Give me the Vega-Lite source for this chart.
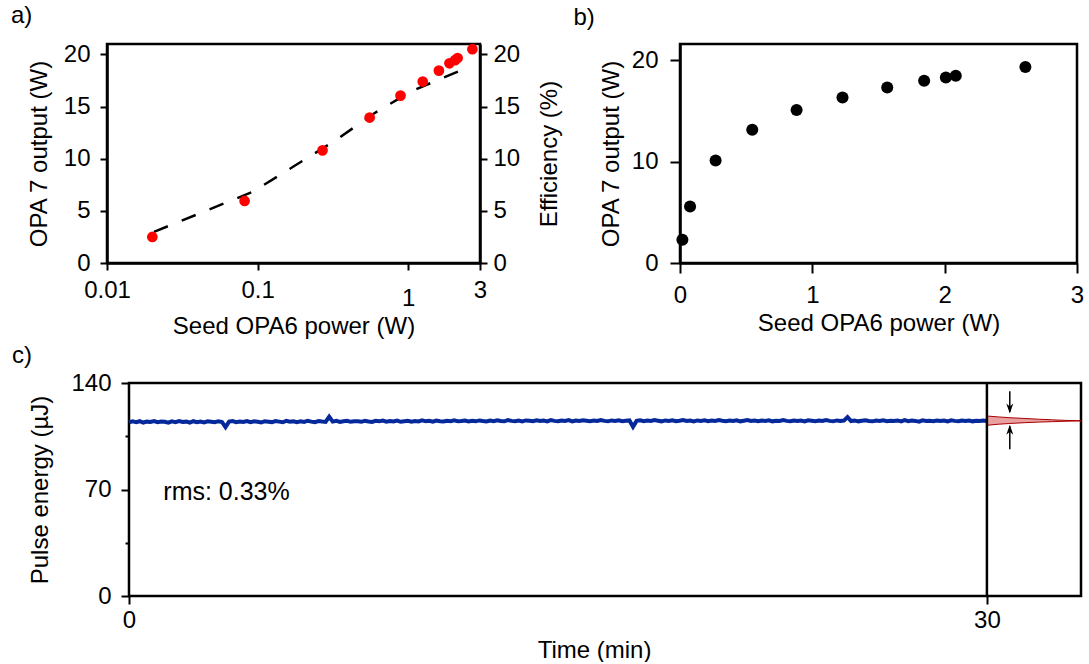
{
 "$schema": "https://vega.github.io/schema/vega-lite/v6.json",
 "padding": {"left": 9, "top": 2, "right": 0, "bottom": 0},
 "background": "white",
 "bounds": "full",
 "spacing": 4,
 "config": {
  "font": "Liberation Sans",
  "view": {"stroke": "black", "strokeWidth": 2.5},
  "axis": {"grid": false, "domainColor": "black", "domainWidth": 2.5, "tickColor": "black", "tickWidth": 2, "tickSize": 8, "labelColor": "black", "labelFontSize": 24, "labelFont": "Liberation Sans", "titleFont": "Liberation Sans", "titleFontSize": 24, "titleFontWeight": "normal", "titleColor": "black", "labelPadding": 6, "labelFlush": false, "labelOverlap": false},
  "title": {"font": "Liberation Sans", "fontSize": 24, "fontWeight": "normal", "color": "black", "anchor": "start", "frame": "group", "baseline": "alphabetic"}
 },
 "vconcat": [
  {
   "bounds": "flush",
   "spacing": 200,
   "hconcat": [
    {
     "width": 373, "height": 219,
     "title": {"text": "a)", "dx": -96, "offset": 14.5},
     "layer": [
      {
       "data": {"values": [
        {"p": 0.0205, "eff": 2.98}, {"p": 0.0926, "eff": 6.82}, {"p": 0.171, "eff": 9.2}, {"p": 0.3245, "eff": 11.7},
        {"p": 0.593, "eff": 14.34}, {"p": 1.052, "eff": 16.48}, {"p": 2.487, "eff": 18.75}
       ]},
       "mark": {"type": "line", "color": "black", "strokeWidth": 2.5, "strokeDash": [15, 15]},
       "encoding": {
        "x": {"field": "p", "type": "quantitative", "scale": {"type": "log", "domain": [0.01, 3], "nice": false},
              "axis": {"values": [0.01, 0.1, 1, 3], "format": "~g", "title": "Seed OPA6 power (W)", "tickSize": 7,
                       "labelPadding": {"condition": {"test": "datum.value == 1", "value": 16}, "value": 8}, "titlePadding": 4}},
        "y": {"field": "eff", "type": "quantitative", "scale": {"domain": [0, 21], "nice": false},
              "axis": {"orient": "right", "values": [0, 5, 10, 15, 20], "title": "Efficiency (%)", "titleAngle": 270, "titleBaseline": "top", "tickSize": 7, "labelPadding": 6, "titlePadding": 18}}
       }
      },
      {
       "data": {"values": [
        {"p": 0.02, "w": 2.5}, {"p": 0.082, "w": 5.95}, {"p": 0.27, "w": 10.8}, {"p": 0.555, "w": 13.95},
        {"p": 0.89, "w": 16.05}, {"p": 1.25, "w": 17.4}, {"p": 1.6, "w": 18.45}, {"p": 1.88, "w": 19.15},
        {"p": 2.05, "w": 19.45}, {"p": 2.13, "w": 19.65}, {"p": 2.67, "w": 20.5}
       ]},
       "mark": {"type": "circle", "color": "#ff0000", "size": 115, "opacity": 1},
       "encoding": {
        "x": {"field": "p", "type": "quantitative"},
        "y": {"field": "w", "type": "quantitative", "scale": {"domain": [0, 21], "nice": false},
              "axis": {"orient": "left", "values": [0, 5, 10, 15, 20], "title": "OPA 7 output (W)", "tickSize": 7, "labelPadding": 10, "titlePadding": 12}}
       }
      }
     ],
     "resolve": {"scale": {"y": "independent"}}
    },
    {
     "width": 397, "height": 219,
     "title": {"text": "b)", "dx": -106.5, "offset": 14.5},
     "data": {"values": [
      {"p": 0.018, "w": 2.3}, {"p": 0.076, "w": 5.57}, {"p": 0.269, "w": 10.1}, {"p": 0.546, "w": 13.15},
      {"p": 0.881, "w": 15.1}, {"p": 1.228, "w": 16.33}, {"p": 1.566, "w": 17.31}, {"p": 1.845, "w": 17.97},
      {"p": 2.009, "w": 18.3}, {"p": 2.084, "w": 18.46}, {"p": 2.61, "w": 19.34}
     ]},
     "mark": {"type": "circle", "color": "black", "size": 145, "opacity": 1},
     "encoding": {
      "x": {"field": "p", "type": "quantitative", "scale": {"domain": [0, 3], "nice": false},
            "axis": {"values": [0, 1, 2, 3], "title": "Seed OPA6 power (W)", "tickSize": 10, "labelPadding": 10, "titlePadding": 4}},
      "y": {"field": "w", "type": "quantitative", "scale": {"domain": [0, 21.6], "nice": false},
            "axis": {"values": [0, 10, 20], "title": "OPA 7 output (W)", "tickSize": 10, "labelPadding": 12, "titlePadding": 8}}
     }
    }
   ]
  },
  {
   "width": 974, "height": 213,
   "title": {"text": "c)", "dx": -95, "offset": 3},
   "view": {"stroke": null},
   "layer": [
    {
     "data": {"values": [{"x0": 0, "x1": 33.29, "y0": 0, "y1": 140}]},
     "mark": {"type": "rect", "filled": false, "stroke": "black", "strokeWidth": 2.5},
     "encoding": {
      "x": {"field": "x0", "type": "quantitative", "scale": {"domain": [-0.769, 33.29], "nice": false, "zero": false},
            "axis": {"values": [0, 30], "domain": false, "title": "Time (min)", "tickSize": 8, "labelPadding": 4, "titlePadding": 6}},
      "x2": {"field": "x1"},
      "y": {"field": "y0", "type": "quantitative", "scale": {"domain": [0, 140], "nice": false},
            "axis": {"values": [0, 35, 70, 105, 140], "labelExpr": "datum.value % 70 == 0 ? datum.label : ''",
                     "tickSize": {"condition": {"test": "datum.value % 70 != 0", "value": 4}, "value": 8},
                     "offset": -22, "domain": false, "title": "Pulse energy (µJ)", "labelPadding": 10, "titlePadding": 18}},
      "y2": {"field": "y1"}
     }
    },
    {
     "data": {"values": [
      {"t":0,"e":114.1},{"t":0.125,"e":114.8},{"t":0.25,"e":114.3},{"t":0.375,"e":114.9},{"t":0.5,"e":114.0},{"t":0.625,"e":114.6},{"t":0.75,"e":114.4},{"t":0.875,"e":115.0},
      {"t":1,"e":114.2},{"t":1.125,"e":114.7},{"t":1.25,"e":114.5},{"t":1.375,"e":113.9},{"t":1.5,"e":114.8},{"t":1.625,"e":114.3},{"t":1.75,"e":115.0},{"t":1.875,"e":114.4},
      {"t":2,"e":114.6},{"t":2.125,"e":114.0},{"t":2.25,"e":114.9},{"t":2.375,"e":114.3},{"t":2.5,"e":114.7},{"t":2.625,"e":114.1},{"t":2.75,"e":114.8},{"t":2.875,"e":114.5},
      {"t":3,"e":114.2},{"t":3.125,"e":114.9},{"t":3.25,"e":114.4},{"t":3.375,"e":111.0},{"t":3.5,"e":114.6},{"t":3.625,"e":115.0},{"t":3.75,"e":114.3},{"t":3.875,"e":114.7},
      {"t":4,"e":114.4},{"t":4.125,"e":115.0},{"t":4.25,"e":114.2},{"t":4.375,"e":114.8},{"t":4.5,"e":114.5},{"t":4.625,"e":114.1},{"t":4.75,"e":114.9},{"t":4.875,"e":114.6},
      {"t":5,"e":114.3},{"t":5.125,"e":115.0},{"t":5.25,"e":114.6},{"t":5.375,"e":114.2},{"t":5.5,"e":115.1},{"t":5.625,"e":114.5},{"t":5.75,"e":114.9},{"t":5.875,"e":114.3},
      {"t":6,"e":114.8},{"t":6.125,"e":114.4},{"t":6.25,"e":115.2},{"t":6.375,"e":114.6},{"t":6.5,"e":114.3},{"t":6.625,"e":115.0},{"t":6.75,"e":114.7},{"t":6.875,"e":114.5},
      {"t":7,"e":117.8},{"t":7.125,"e":114.6},{"t":7.25,"e":115.1},{"t":7.375,"e":114.4},{"t":7.5,"e":114.9},{"t":7.625,"e":115.2},{"t":7.75,"e":114.5},{"t":7.875,"e":114.8},
      {"t":8,"e":114.9},{"t":8.125,"e":114.5},{"t":8.25,"e":115.2},{"t":8.375,"e":114.7},{"t":8.5,"e":114.4},{"t":8.625,"e":115.1},{"t":8.75,"e":114.8},{"t":8.875,"e":115.3},
      {"t":9,"e":114.6},{"t":9.125,"e":115.0},{"t":9.25,"e":114.7},{"t":9.375,"e":115.3},{"t":9.5,"e":114.5},{"t":9.625,"e":114.9},{"t":9.75,"e":115.2},{"t":9.875,"e":114.6},
      {"t":10,"e":115.0},{"t":10.125,"e":114.7},{"t":10.25,"e":115.4},{"t":10.375,"e":114.8},{"t":10.5,"e":115.1},{"t":10.625,"e":114.6},{"t":10.75,"e":115.3},{"t":10.875,"e":114.9},
      {"t":11,"e":114.7},{"t":11.125,"e":115.2},{"t":11.25,"e":114.9},{"t":11.375,"e":115.5},{"t":11.5,"e":114.8},{"t":11.625,"e":115.0},{"t":11.75,"e":115.3},{"t":11.875,"e":114.7},
      {"t":12,"e":115.1},{"t":12.125,"e":114.8},{"t":12.25,"e":115.4},{"t":12.375,"e":115.0},{"t":12.5,"e":114.7},{"t":12.625,"e":115.3},{"t":12.75,"e":114.9},{"t":12.875,"e":115.5},
      {"t":13,"e":115.0},{"t":13.125,"e":114.8},{"t":13.25,"e":115.6},{"t":13.375,"e":115.1},{"t":13.5,"e":114.9},{"t":13.625,"e":115.3},{"t":13.75,"e":114.8},{"t":13.875,"e":115.4},
      {"t":14,"e":115.2},{"t":14.125,"e":114.9},{"t":14.25,"e":115.5},{"t":14.375,"e":115.0},{"t":14.5,"e":115.3},{"t":14.625,"e":114.8},{"t":14.75,"e":115.6},{"t":14.875,"e":115.1},
      {"t":15,"e":114.9},{"t":15.125,"e":115.4},{"t":15.25,"e":115.1},{"t":15.375,"e":115.6},{"t":15.5,"e":114.8},{"t":15.625,"e":115.3},{"t":15.75,"e":115.0},{"t":15.875,"e":115.5},
      {"t":16,"e":115.2},{"t":16.125,"e":114.9},{"t":16.25,"e":115.4},{"t":16.375,"e":115.0},{"t":16.5,"e":115.7},{"t":16.625,"e":115.1},{"t":16.75,"e":114.8},{"t":16.875,"e":115.4},
      {"t":17,"e":115.0},{"t":17.125,"e":115.5},{"t":17.25,"e":114.9},{"t":17.375,"e":115.2},{"t":17.5,"e":115.4},{"t":17.625,"e":111.2},{"t":17.75,"e":115.1},{"t":17.875,"e":115.5},
      {"t":18,"e":114.9},{"t":18.125,"e":115.3},{"t":18.25,"e":115.0},{"t":18.375,"e":115.6},{"t":18.5,"e":115.2},{"t":18.625,"e":114.8},{"t":18.75,"e":115.4},{"t":18.875,"e":115.1},
      {"t":19,"e":115.5},{"t":19.125,"e":114.9},{"t":19.25,"e":115.2},{"t":19.375,"e":115.6},{"t":19.5,"e":115.0},{"t":19.625,"e":115.3},{"t":19.75,"e":114.8},{"t":19.875,"e":115.4},
      {"t":20,"e":115.1},{"t":20.125,"e":115.5},{"t":20.25,"e":114.9},{"t":20.375,"e":115.3},{"t":20.5,"e":115.0},{"t":20.625,"e":115.6},{"t":20.75,"e":115.2},{"t":20.875,"e":114.9},
      {"t":21,"e":115.4},{"t":21.125,"e":115.0},{"t":21.25,"e":115.5},{"t":21.375,"e":114.8},{"t":21.5,"e":115.2},{"t":21.625,"e":115.6},{"t":21.75,"e":115.0},{"t":21.875,"e":115.3},
      {"t":22,"e":114.9},{"t":22.125,"e":115.4},{"t":22.25,"e":115.1},{"t":22.375,"e":115.5},{"t":22.5,"e":114.8},{"t":22.625,"e":115.2},{"t":22.75,"e":115.0},{"t":22.875,"e":115.6},
      {"t":23,"e":115.1},{"t":23.125,"e":114.9},{"t":23.25,"e":115.4},{"t":23.375,"e":115.0},{"t":23.5,"e":115.3},{"t":23.625,"e":114.7},{"t":23.75,"e":115.5},{"t":23.875,"e":115.2},
      {"t":24,"e":114.9},{"t":24.125,"e":115.3},{"t":24.25,"e":115.0},{"t":24.375,"e":115.6},{"t":24.5,"e":115.1},{"t":24.625,"e":114.8},{"t":24.75,"e":115.4},{"t":24.875,"e":115.0},
      {"t":25,"e":115.3},{"t":25.125,"e":117.6},{"t":25.25,"e":115.0},{"t":25.375,"e":115.4},{"t":25.5,"e":114.8},{"t":25.625,"e":115.2},{"t":25.75,"e":115.5},{"t":25.875,"e":115.0},
      {"t":26,"e":114.8},{"t":26.125,"e":115.3},{"t":26.25,"e":115.1},{"t":26.375,"e":115.5},{"t":26.5,"e":114.9},{"t":26.625,"e":115.2},{"t":26.75,"e":115.0},{"t":26.875,"e":115.4},
      {"t":27,"e":114.7},{"t":27.125,"e":115.6},{"t":27.25,"e":114.9},{"t":27.375,"e":115.3},{"t":27.5,"e":115.1},{"t":27.625,"e":114.6},{"t":27.75,"e":115.5},{"t":27.875,"e":115.0},
      {"t":28,"e":115.2},{"t":28.125,"e":114.9},{"t":28.25,"e":115.4},{"t":28.375,"e":115.0},{"t":28.5,"e":115.3},{"t":28.625,"e":114.8},{"t":28.75,"e":115.5},{"t":28.875,"e":115.1},
      {"t":29,"e":114.9},{"t":29.125,"e":115.4},{"t":29.25,"e":115.0},{"t":29.375,"e":115.3},{"t":29.5,"e":114.8},{"t":29.625,"e":115.2},{"t":29.75,"e":115.0},{"t":29.875,"e":115.3},
      {"t":30,"e":115.1}
     ]},
     "mark": {"type": "line", "color": "#05289a", "strokeWidth": 4},
     "encoding": {"x": {"field": "t", "type": "quantitative"}, "y": {"field": "e", "type": "quantitative"}}
    },
    {
     "data": {"values": [
      {"t": 30, "lo": 112.2, "hi": 118.3}, {"t": 30.4, "lo": 112.9, "hi": 117.7}, {"t": 30.8, "lo": 113.4, "hi": 117.2},
      {"t": 31.3, "lo": 113.9, "hi": 116.7}, {"t": 31.8, "lo": 114.3, "hi": 116.2}, {"t": 32.3, "lo": 114.6, "hi": 115.8},
      {"t": 32.8, "lo": 114.9, "hi": 115.4}, {"t": 33.29, "lo": 115.1, "hi": 115.2}
     ]},
     "mark": {"type": "area", "color": "#e8a0a0", "stroke": "#a80000", "strokeWidth": 1, "opacity": 1},
     "encoding": {"x": {"field": "t", "type": "quantitative"}, "y": {"field": "lo", "type": "quantitative"}, "y2": {"field": "hi"}}
    },
    {
     "data": {"values": [{"t": 30}]},
     "mark": {"type": "rule", "color": "black", "strokeWidth": 2.5},
     "encoding": {"x": {"field": "t", "type": "quantitative"}}
    },
    {
     "data": {"values": [
      {"t": 30.8, "y1": 134.5, "y2": 121, "dir": "down"},
      {"t": 30.8, "y1": 96.4, "y2": 111.5, "dir": "up"}
     ]},
     "mark": {"type": "rule", "color": "black", "strokeWidth": 1.5},
     "encoding": {"x": {"field": "t", "type": "quantitative"}, "y": {"field": "y1", "type": "quantitative"}, "y2": {"field": "y2"}}
    },
    {
     "data": {"values": [
      {"t": 30.8, "tip": 119.9, "dir": "down"},
      {"t": 30.8, "tip": 112.6, "dir": "up"}
     ]},
     "mark": {"type": "point", "filled": true, "color": "black", "size": 400, "opacity": 1, "strokeWidth": 0},
     "encoding": {
      "x": {"field": "t", "type": "quantitative"},
      "y": {"field": "tip", "type": "quantitative"},
      "shape": {"field": "dir", "type": "nominal", "scale": {"domain": ["down", "up"], "range": ["M0,0L-0.35,-1L0,-0.7L0.35,-1Z", "M0,0L-0.35,1L0,0.7L0.35,1Z"]}, "legend": null}
     }
    },
    {
     "data": {"values": [{"t": 1.2, "e": 68.6, "label": "rms: 0.33%"}]},
     "mark": {"type": "text", "align": "left", "baseline": "middle", "fontSize": 25, "font": "Liberation Sans", "color": "black"},
     "encoding": {"x": {"field": "t", "type": "quantitative"}, "y": {"field": "e", "type": "quantitative"}, "text": {"field": "label"}}
    }
   ]
  }
 ]
}
